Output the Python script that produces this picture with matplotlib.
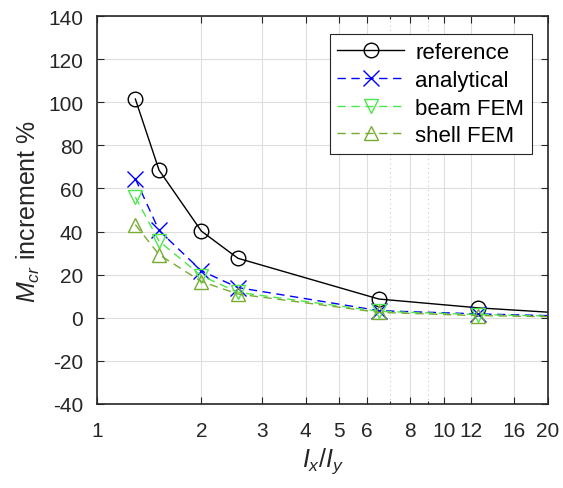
import numpy as np
import matplotlib.pyplot as plt
from matplotlib.ticker import FixedLocator, NullFormatter

plt.rcParams['font.family'] = ['Liberation Sans', 'DejaVu Sans']
plt.rcParams['mathtext.fontset'] = 'custom'
plt.rcParams['mathtext.it'] = 'Liberation Sans:italic'
plt.rcParams['mathtext.rm'] = 'Liberation Sans'
plt.rcParams['axes.unicode_minus'] = False

# --- datos ---
ratio = [1.29, 1.51, 2.0, 2.55, 6.5, 12.6, 20.0]
reference = [101.5, 68.5, 40.2, 27.6, 8.7, 4.6, 2.6]
analytical = [64.5, 40.5, 21.8, 14.0, 3.3, 1.8, 1.0]
beam_fem = [56.0, 35.5, 19.5, 11.8, 3.0, 1.5, 0.8]
shell_fem = [43.2, 29.3, 16.8, 11.0, 2.5, 1.0, 0.5]

xticks = [1, 2, 3, 4, 5, 6, 8, 10, 12, 16, 20]
yticks = np.arange(-40, 141, 20)

ink = '#262626'
fig = plt.figure(figsize=(5.63, 4.89), dpi=100)
ax = fig.add_axes([0.1723, 0.1718, 0.8011, 0.7934])

marks = list(range(len(ratio) - 1))
ax.plot(ratio, reference, '-', color='black', lw=1.0, marker='o', ms=10.5,
        mfc='none', mew=1.0, markevery=marks, label='reference')
ax.plot(ratio, analytical, '--', color='blue', lw=1.0, marker='x', ms=12,
        mew=1.0, markevery=marks, label='analytical', dashes=(6, 4))
ax.plot(ratio, beam_fem, '--', color='#4ce64c', lw=1.0, marker='v', ms=10.5,
        mfc='none', mew=1.0, markevery=marks, label='beam FEM', dashes=(6, 4))
ax.plot(ratio, shell_fem, '--', color='#77ac30', lw=1.0, marker='^', ms=10.5,
        mfc='none', mew=1.0, markevery=marks, label='shell FEM', dashes=(6, 4))

ax.set_xscale('log')
ax.set_xlim(1, 20)
ax.set_ylim(-40, 140)
ax.xaxis.set_major_locator(FixedLocator(xticks))
ax.set_xticklabels([str(t) for t in xticks])
ax.xaxis.set_minor_locator(FixedLocator([7, 9]))
ax.xaxis.set_minor_formatter(NullFormatter())
ax.set_yticks(yticks)

ax.grid(True, which='major', color='#dedede', lw=0.8)
ax.grid(True, which='minor', axis='x', color='#c8c8c8', lw=0.8, ls=(0, (1, 3)))
ax.set_axisbelow(True)

ax.tick_params(which='both', direction='in', top=True, right=True,
               labelsize=15, colors=ink, labelcolor=ink)
ax.tick_params(axis='x', which='major', pad=12)
ax.tick_params(axis='y', which='major', pad=10)
ax.tick_params(which='major', length=5, width=0.8)
ax.tick_params(which='minor', length=2.5, width=0.8)
for s in ax.spines.values():
    s.set_color(ink)
    s.set_linewidth(1.2)

ax.set_xlabel('$\\mathit{I_x/I_y}$', fontsize=18, color=ink, labelpad=4)
ax.set_ylabel('$\\mathit{M_{cr}}$ increment %', fontsize=18, color=ink, labelpad=4)

leg = ax.legend(loc='upper right', bbox_to_anchor=(0.989, 0.981), fontsize=16,
                fancybox=False, edgecolor=ink, framealpha=1, handlelength=3.0,
                borderpad=0.35, labelspacing=0.3, handletextpad=0.5)
leg.get_frame().set_linewidth(0.8)

fig.savefig('out.png', dpi=100)
